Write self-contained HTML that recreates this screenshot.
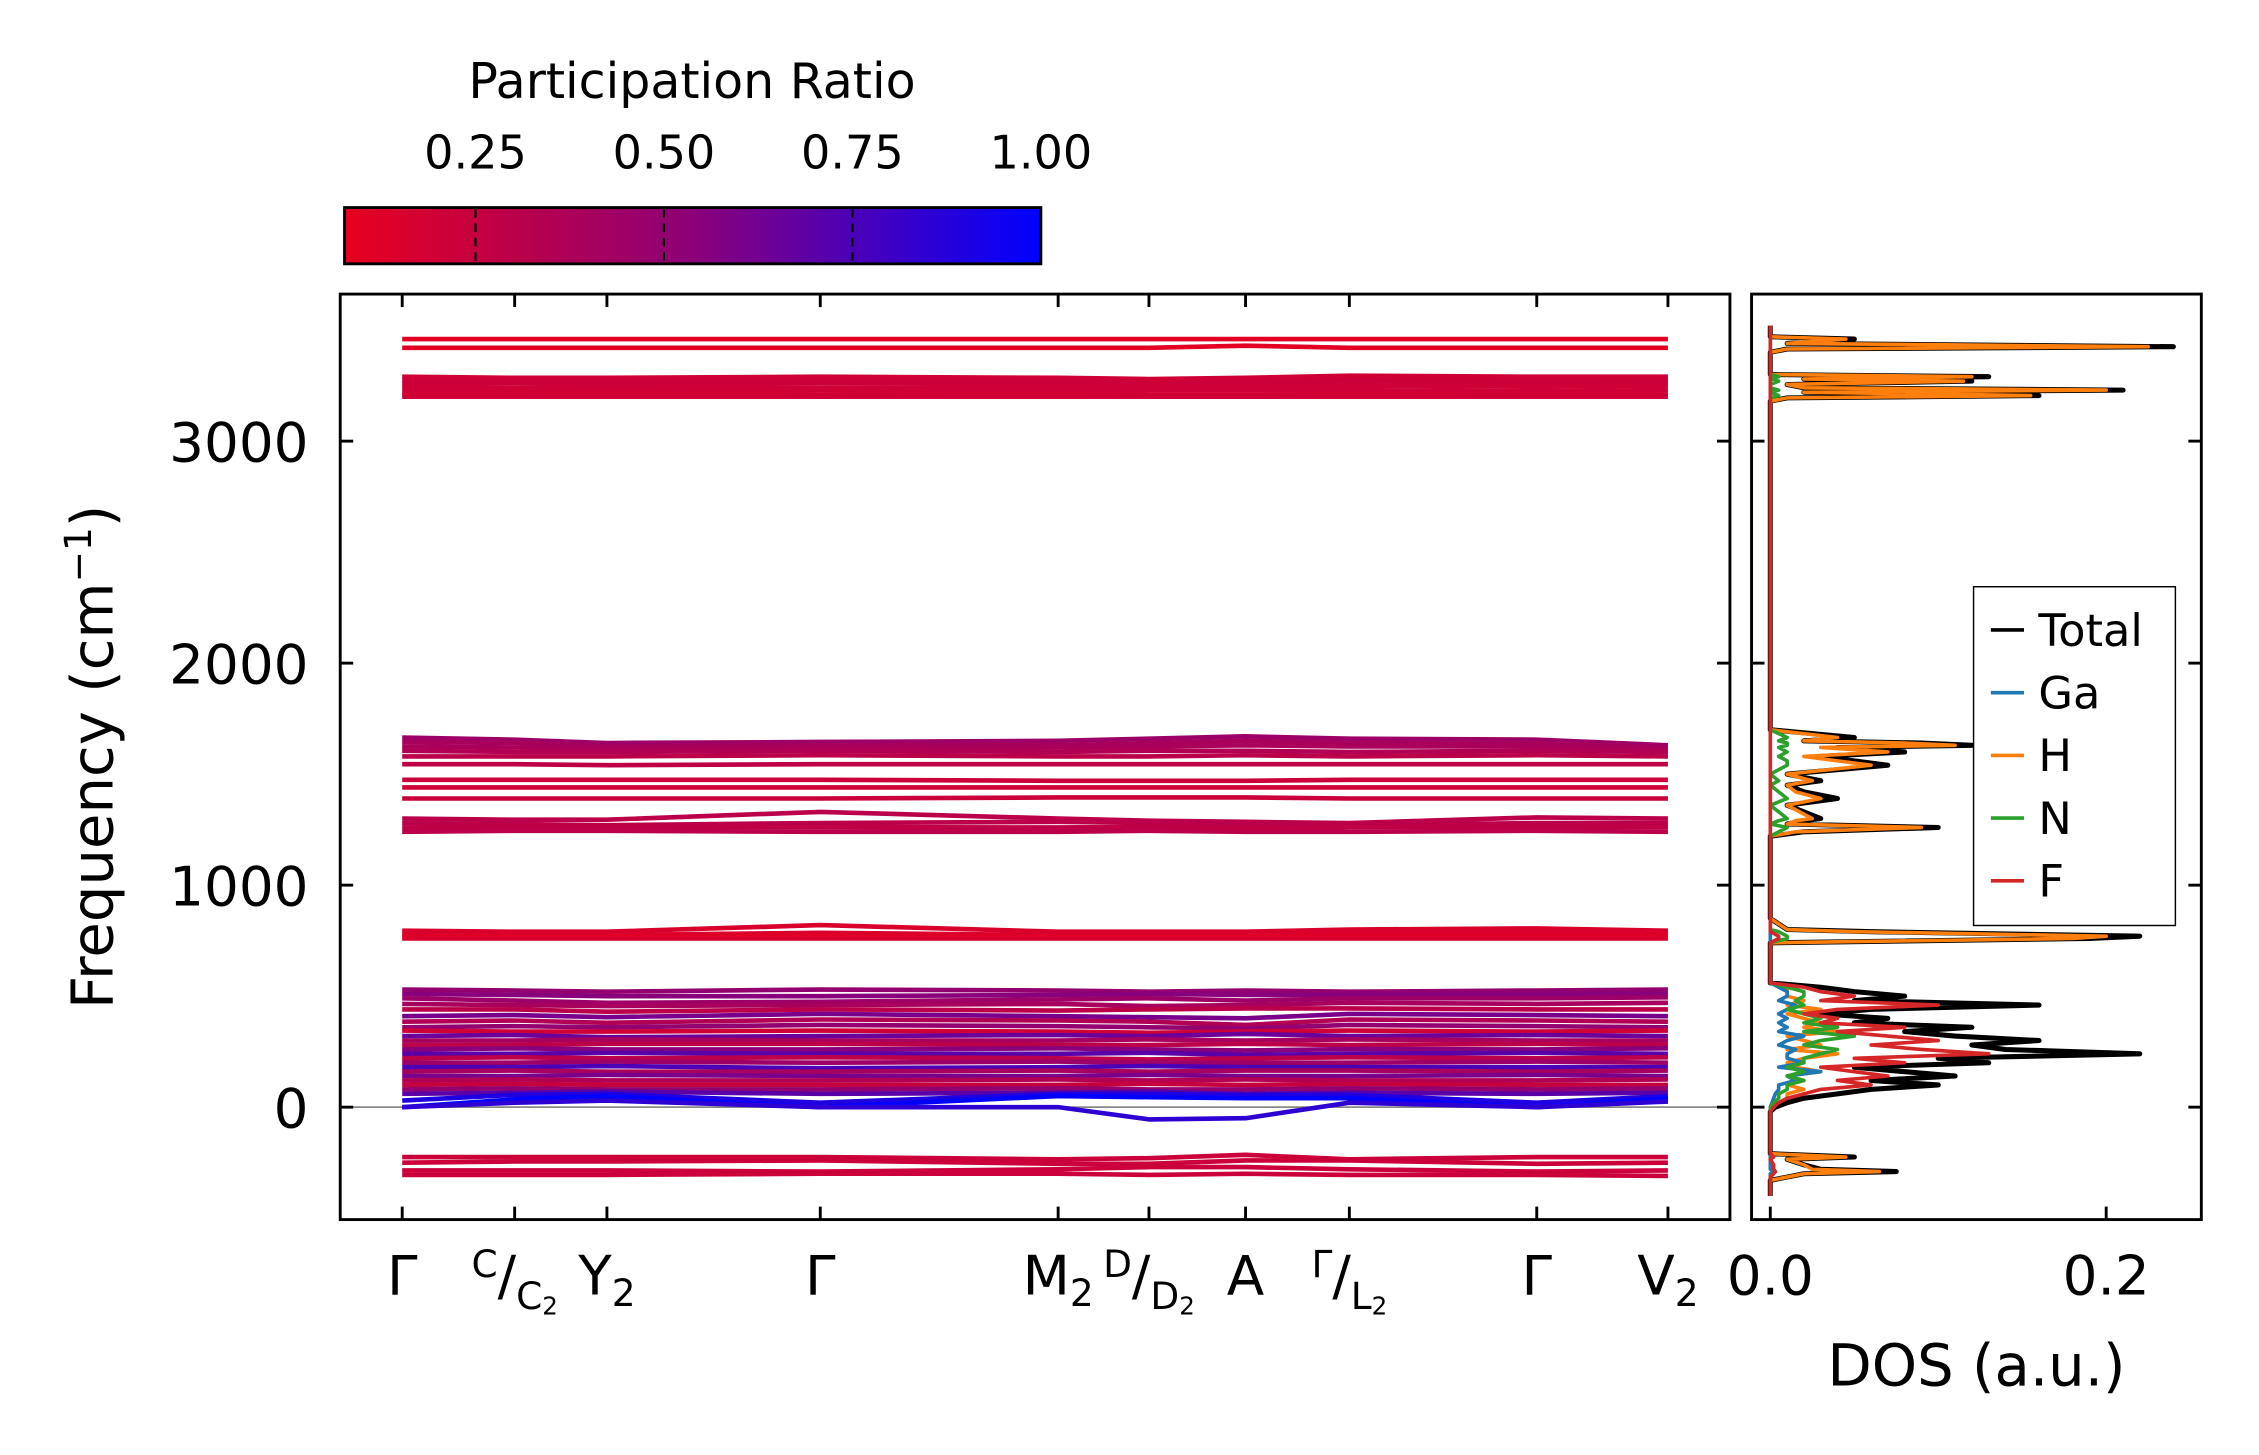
<!DOCTYPE html>
<html><head><meta charset="utf-8"><style>
html,body{margin:0;padding:0;background:#fff}
svg{display:block;font-family:"DejaVu Sans","Liberation Sans",sans-serif}
</style></head><body>
<svg id="fig" width="2259" height="1455" viewBox="0 0 1567 1009.3" preserveAspectRatio="none" xmlns="http://www.w3.org/2000/svg">
<defs>
<linearGradient id="cbg" x1="0" x2="1" y1="0" y2="0">
<stop offset="0" stop-color="rgb(232,0,30)"/><stop offset="0.5" stop-color="rgb(140,0,120)"/><stop offset="1" stop-color="rgb(0,0,255)"/>
</linearGradient>
<clipPath id="clipMain"><rect x="236" y="204" width="964" height="642"/></clipPath>
<clipPath id="clipDos"><rect x="1215" y="204" width="312" height="642"/></clipPath>
</defs>
<g>
<text x="480" y="68" font-size="34" text-anchor="middle">Participation Ratio</text>
<rect x="239" y="144" width="483" height="39" fill="url(#cbg)" stroke="#000" stroke-width="2"/>
<g id="cbticks"></g>
</g>
<g id="main">
<rect x="236" y="204" width="964" height="642" fill="#fff"/>
<g id="bands" clip-path="url(#clipMain)"></g>
<g id="mainAxes"></g>
<rect x="236" y="204" width="964" height="642" fill="none" stroke="#000" stroke-width="2"/>
<text transform="translate(78,525) rotate(-90)" font-size="40" text-anchor="middle">Frequency (cm<tspan font-size="26" dy="-15">−1</tspan><tspan dy="15">)</tspan></text>
</g>
<g id="dos">
<g id="dosLines" clip-path="url(#clipDos)"></g>
<g id="dosAxes"></g>
<rect x="1215" y="204" width="312" height="642" fill="none" stroke="#000" stroke-width="2"/>
<text x="1371" y="961" font-size="40" text-anchor="middle">DOS (a.u.)</text>
<g>
<rect x="1369" y="407" width="140" height="235" fill="#fff" stroke="#000" stroke-width="1"/>
<g id="legendItems"></g>
</g>
</g>
</svg>
<script>
const NS="http://www.w3.org/2000/svg";
// ---- data ----
const kDist=[0,0.78,1.42,2.9,4.55,5.18,5.85,6.57,7.87,8.78];
const yTicks=[0,1000,2000,3000];
const cbTicks=[0.25,0.5,0.75,1.0];
const cbTickLabels=["0.25","0.50","0.75","1.00"];
const dosTicks=[0.0,0.2];
const dosTickLabels=["0.0","0.2"];
const bandFreqs=[
[3460,3460,3460,3460,3460,3460,3460,3460,3460,3460],
[3420,3420,3420,3420,3420,3420,3430,3420,3420,3420],
[3290,3285,3285,3290,3285,3280,3285,3295,3290,3290],
[3275,3270,3275,3280,3270,3270,3270,3285,3275,3280],
[3260,3262,3260,3262,3262,3260,3255,3270,3262,3265],
[3245,3240,3245,3240,3245,3245,3242,3250,3245,3250],
[3225,3230,3225,3230,3225,3230,3230,3230,3225,3230],
[3210,3210,3215,3210,3212,3210,3210,3212,3210,3210],
[3200,3200,3200,3200,3200,3200,3200,3200,3200,3200],
[1665,1655,1640,1645,1650,1660,1670,1660,1655,1630],
[1645,1640,1625,1630,1630,1640,1650,1640,1640,1620],
[1625,1620,1615,1620,1620,1625,1630,1625,1625,1610],
[1605,1600,1600,1605,1600,1605,1605,1600,1605,1600],
[1580,1580,1580,1585,1580,1580,1585,1580,1585,1580],
[1545,1545,1540,1545,1545,1545,1545,1545,1545,1545],
[1475,1475,1475,1475,1470,1470,1470,1475,1475,1475],
[1440,1440,1440,1440,1440,1440,1440,1440,1440,1440],
[1390,1390,1390,1390,1395,1395,1395,1390,1390,1390],
[1300,1295,1295,1330,1300,1290,1285,1280,1305,1300],
[1280,1275,1270,1280,1285,1280,1270,1270,1280,1280],
[1260,1262,1262,1262,1260,1262,1255,1262,1262,1262],
[1240,1245,1245,1240,1240,1245,1240,1240,1245,1240],
[795,790,790,820,790,790,790,800,805,795],
[780,775,775,785,775,775,775,785,785,785],
[770,770,770,770,768,768,770,770,770,770],
[760,760,760,760,760,760,760,760,760,760],
[530,525,520,530,525,520,525,520,525,530],
[510,505,500,500,505,510,505,505,510,510],
[490,480,470,475,485,490,480,490,490,495],
[465,460,455,460,465,455,460,470,465,470],
[440,440,430,440,435,440,445,445,440,440],
[410,415,405,420,410,405,400,420,415,410],
[385,390,380,395,390,385,370,395,390,385],
[360,365,360,370,365,360,355,370,365,360],
[345,340,340,345,340,335,340,345,340,345],
[320,325,315,320,325,320,330,320,325,320],
[300,300,305,300,300,305,300,305,300,300],
[280,280,285,285,280,280,285,280,285,280],
[260,265,260,260,265,260,255,262,260,265],
[240,240,245,240,240,245,235,240,245,240],
[220,225,220,225,220,215,220,225,220,225],
[200,200,205,200,205,200,200,200,205,200],
[180,180,185,175,180,185,180,180,180,180],
[160,165,160,160,165,160,165,165,160,165],
[140,140,145,140,140,145,140,140,145,140],
[120,125,120,120,125,120,125,120,120,125],
[100,105,100,100,100,105,100,105,100,100],
[80,85,80,80,85,80,80,85,80,85],
[60,65,70,60,65,70,60,65,60,65],
[30,55,60,20,60,60,55,55,20,50],
[0,35,50,0,50,45,40,40,0,40],
[0,20,30,0,0,-55,-50,20,0,25],
[-225,-225,-225,-225,-235,-230,-215,-235,-225,-225],
[-250,-245,-245,-240,-255,-255,-240,-240,-255,-250],
[-285,-285,-285,-290,-280,-270,-270,-280,-290,-285],
[-305,-305,-305,-300,-300,-305,-300,-305,-305,-310]];
const bandPR=[0.1,0.1,0.2,0.2,0.22,0.2,0.2,0.18,0.2,
0.45,0.4,0.38,0.35,0.3,0.28,0.22,0.2,0.22,0.3,0.3,0.28,0.3,
0.15,0.15,0.12,0.15,
0.5,0.55,0.45,0.4,0.3,0.6,0.35,0.5,0.2,0.65,0.4,0.3,0.55,0.7,0.3,0.45,0.75,0.4,0.6,0.35,0.25,0.5,0.7,0.9,1.0,0.85,
0.22,0.22,0.22,0.22];
const dosFreq=[3520,3470,3460,3440,3425,3415,3400,3300,3290,3280,3270,3255,3240,3230,3220,3205,3195,3180,
1700,1665,1650,1640,1630,1620,1600,1580,1560,1540,1500,1470,1450,1420,1390,1360,1300,1290,1275,1260,1240,1220,
850,800,790,770,760,740,
560,540,520,500,480,460,440,420,400,380,360,340,320,300,280,260,240,220,200,180,160,140,120,100,80,60,40,20,0,-20,
-210,-225,-235,-260,-280,-290,-300,-315,-330,-400];
const dosTotal=[0,0,.05,.01,.24,.01,0,0,.13,.02,.12,.01,.02,.21,.02,.16,.01,0,
0,.05,.02,.09,.12,.04,.08,.03,.05,.07,.01,.03,.01,.02,.04,.01,.03,.02,.01,.10,.02,0,
0,.01,.06,.22,.19,0,
0,.03,.05,.08,.05,.16,.06,.03,.07,.05,.12,.08,.11,.16,.12,.14,.22,.10,.13,.05,.08,.11,.06,.10,.06,.04,.02,.01,.003,0,
0,.05,.01,.02,.03,.075,.02,.01,0,0];
const dosH=[0,0,.045,.01,.225,.01,0,0,.12,.02,.115,.01,.02,.2,.02,.155,.01,0,
0,.04,.02,.08,.11,.03,.07,.02,.04,.06,.01,.025,.01,.015,.03,.01,.025,.015,.01,.09,.015,0,
0,.01,.05,.2,.18,0,
0,.01,.01,.01,.02,.01,.03,.01,.02,.03,.02,.04,.01,.02,.03,.01,.04,.02,.01,.015,.03,.01,.02,.01,.02,.01,.01,.005,0,0,
0,.045,.01,.02,.025,.065,.02,.01,0,0];
const dosN=[0,0,0,0,0,0,0,0,.005,0,.005,0,0,.005,0,.005,0,0,
0,.01,.005,.01,.01,.005,.01,.005,.01,.01,0,.005,0,.005,.01,0,.01,.005,0,.01,.005,0,
0,0,.005,.01,.01,0,
0,.01,.02,.02,.015,.02,.01,.02,.03,.02,.04,.02,.05,.03,.02,.04,.03,.02,.02,.01,.02,.01,.02,.01,.01,.005,.005,.002,0,0,
0,.002,0,.002,.002,.003,.002,0,0,0];
const dosF=[0,0,0,0,0,0,0,0,0,0,0,0,0,0,0,0,0,0,
0,0,0,0,0,0,0,0,0,0,0,0,0,0,0,0,0,0,0,0,0,0,
0,0,0,.005,.005,0,
0,.02,.03,.05,.03,.1,.04,.02,.04,.03,.08,.04,.07,.1,.06,.09,.13,.05,.08,.03,.05,.07,.04,.06,.03,.02,.01,.005,.002,0,
0,.002,0,.002,.002,.003,.002,0,0,0];
const dosGa=[0,0,0,0,0,0,0,0,0,0,0,0,0,0,0,0,0,0,
0,0,0,0,0,0,0,0,0,0,0,0,0,0,0,0,0,0,0,0,0,0,
0,0,0,0,0,0,
0,.005,.01,.01,.005,.015,.01,.005,.01,.005,.01,.005,.02,.01,.005,.015,.01,.01,.02,.005,.03,.01,.015,.005,.005,.003,.002,.001,0,0,
0,0,0,0,0,.002,0,0,0,0];
const dosSeries=[["Total",dosTotal,"#000"],["Ga",dosGa,"#1f77b4"],["H",dosH,"#ff7f0e"],["N",dosN,"#2ca02c"],["F",dosF,"#d62728"]];
// ---- scales ----
const yS=f=>768-f*0.154;
const xS=d=>279+d*(1157-279)/kDist[kDist.length-1];
const dS=v=>1228+v*1165;
const cbS=p=>239+(p-0.0763)*(722-239)/(1-0.0763);
function mk(tag,attrs,parent,txt){const e=document.createElementNS(NS,tag);for(const k in attrs)e.setAttribute(k,attrs[k]);if(txt!==undefined)e.textContent=txt;parent.appendChild(e);return e;}
function prColor(p){const t=Math.max(0,Math.min(1,(p-0.0763)/(1-0.0763)));let r,g,b;
 if(t<0.5){const u=t/0.5;r=232+(140-232)*u;g=0;b=30+(120-30)*u;}else{const u=(t-0.5)/0.5;r=140*(1-u);g=0;b=120+(255-120)*u;}
 return `rgb(${r|0},${g|0},${b|0})`;}
// colorbar ticks
const cbt=document.getElementById('cbticks');
cbTicks.forEach((t,i)=>{const x=cbS(t);
 if(t<1){const l=mk('line',{x1:x,x2:x,y1:145,y2:182,stroke:'#000','stroke-width':1.5,'stroke-dasharray':'6,4'},cbt);
 
 }
 const tx=mk('text',{x:x,y:117,'font-size':32,'text-anchor':'middle'},cbt,cbTickLabels[i]);
 
 });
// bands
const bg=document.getElementById('bands');
const zl=mk('line',{x1:236,x2:1200,y1:yS(0),y2:yS(0),stroke:'#888','stroke-width':1.2},bg);


bandFreqs.forEach((b,i)=>{const pts=b.map((f,j)=>xS(kDist[j]).toFixed(1)+','+yS(f).toFixed(1)).join(' ');
 const p=mk('polyline',{points:pts,fill:'none',stroke:prColor(bandPR[i]),'stroke-width':3.2,'stroke-linejoin':'round'},bg);
 
 });
// main axes
const ma=document.getElementById('mainAxes');
yTicks.forEach(t=>{const y=yS(t);
 mk('line',{x1:236,x2:245,y1:y,y2:y,stroke:'#000','stroke-width':2},ma);
 mk('line',{x1:1191,x2:1200,y1:y,y2:y,stroke:'#000','stroke-width':2},ma);
 const tx=mk('text',{x:214,y:y+14,'font-size':38,'text-anchor':'end'},ma,String(t));
 
 });
kDist.forEach(d=>{const x=xS(d);
 mk('line',{x1:x,x2:x,y1:204,y2:213,stroke:'#000','stroke-width':2},ma);
 mk('line',{x1:x,x2:x,y1:837,y2:846,stroke:'#000','stroke-width':2},ma);});
const xl=[["Γ",0,""],["Y",2,"2"],["Γ",3,""],["M",4,"2"],["A",6,""],["Γ",8,""],["V",9,"2"]];
xl.forEach(([s,i,sub])=>{const t=mk('text',{x:xS(kDist[i]),y:898,'font-size':38,'text-anchor':'middle'},ma);
 
 
 mk('tspan',{},t,s);if(sub)mk('tspan',{'font-size':26,dy:8},t,sub);});
[["C","C",1],["D","D",5],["Γ","L",7]].forEach(([a,b,i])=>{const x=xS(kDist[i]);
 const t=mk('text',{x:x,y:898,'font-size':38,'text-anchor':'middle'},ma);
 
 
 mk('tspan',{'font-size':26,dy:-12},t,a);mk('tspan',{dy:12},t,'/');mk('tspan',{'font-size':26,dy:10},t,b);mk('tspan',{'font-size':17,dy:4},t,'2');});
// DOS
const dl=document.getElementById('dosLines');
[dosSeries[0],dosSeries[2],dosSeries[1],dosSeries[3],dosSeries[4]].forEach(([n,v,c])=>{
 const pts=v.map((val,j)=>dS(val).toFixed(1)+','+yS(dosFreq[j]).toFixed(1)).join(' ');
 const p=mk('polyline',{points:pts,fill:'none',stroke:c,'stroke-width':n==="Total"?3.5:2.5,'stroke-linejoin':'round'},dl);
 
 });
const da=document.getElementById('dosAxes');
yTicks.forEach(t=>{const y=yS(t);
 mk('line',{x1:1215,x2:1224,y1:y,y2:y,stroke:'#000','stroke-width':2},da);
 mk('line',{x1:1518,x2:1527,y1:y,y2:y,stroke:'#000','stroke-width':2},da);});
dosTicks.forEach((t,i)=>{const x=dS(t);
 mk('line',{x1:x,x2:x,y1:837,y2:846,stroke:'#000','stroke-width':2},da);
 const tx=mk('text',{x:x,y:898,'font-size':38,'text-anchor':'middle'},da,dosTickLabels[i]);
 
 });
const li=document.getElementById('legendItems');
dosSeries.forEach(([n,v,c],i)=>{const y=437+i*43.5;
 const g=mk('g',{},li);
 
 
 mk('line',{x1:1381,x2:1404,y1:y,y2:y,stroke:c,'stroke-width':2.5},g);
 mk('text',{x:1414,y:y+11,'font-size':31},g,n);});
</script>
</body></html>
